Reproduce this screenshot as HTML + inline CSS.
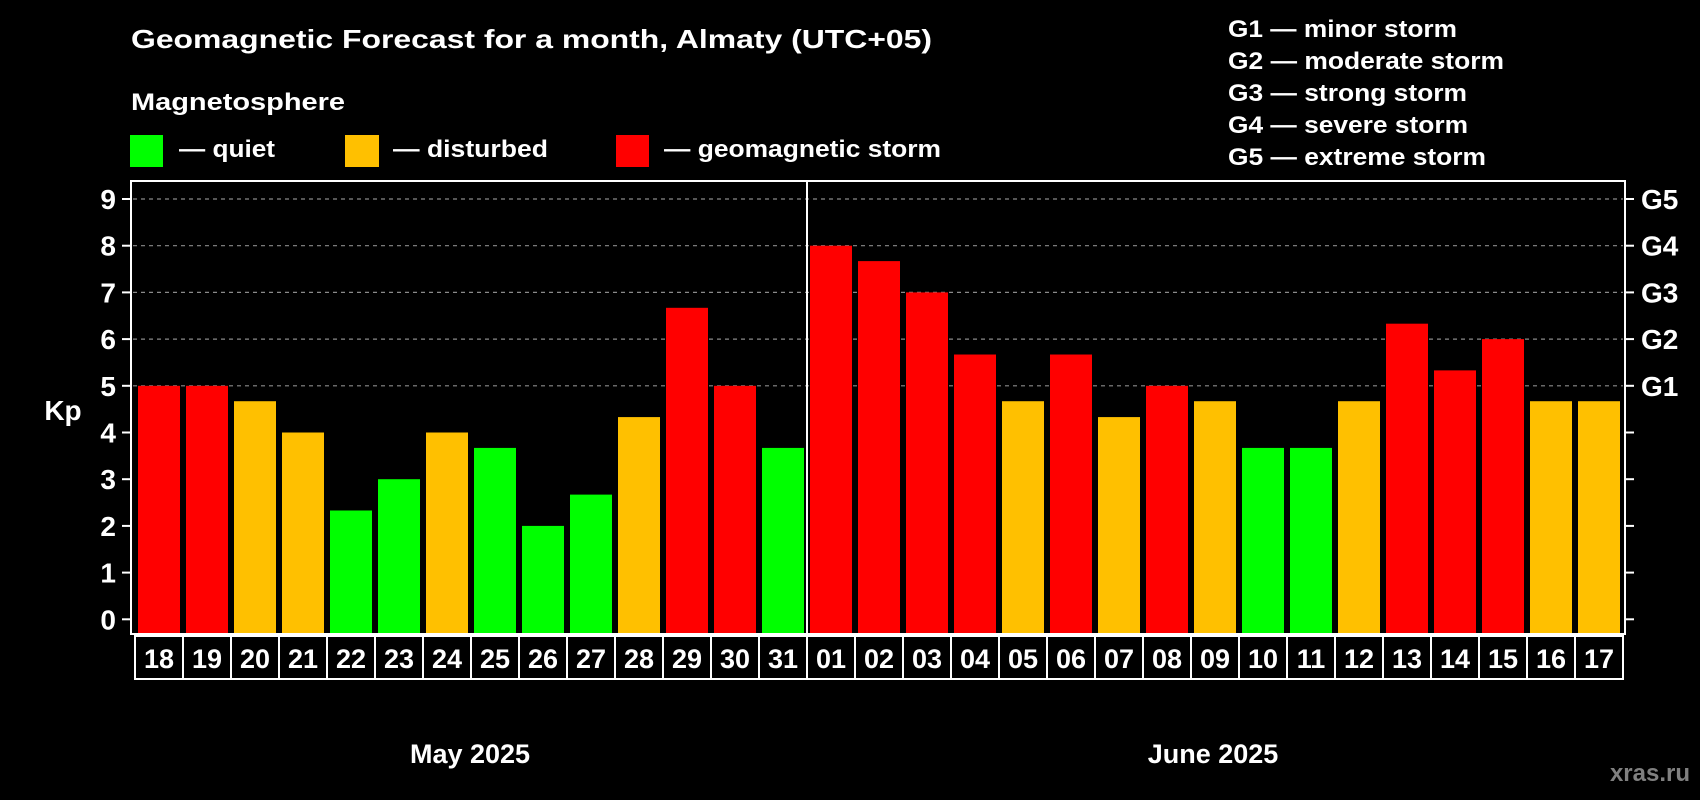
<!DOCTYPE html>
<html><head><meta charset="utf-8"><style>
html,body{margin:0;padding:0;background:#000;}
svg{display:block;font-family:"Liberation Sans",Arial,sans-serif;font-weight:bold;}
</style></head><body>
<svg id="chart" width="1700" height="800" viewBox="0 0 1700 800" xmlns="http://www.w3.org/2000/svg">
<rect width="1700" height="800" fill="#000"/>
<text x="131" y="48" fill="#fff" font-size="26" textLength="801" lengthAdjust="spacingAndGlyphs">Geomagnetic Forecast for a month, Almaty (UTC+05)</text>
<text x="131" y="110" fill="#fff" font-size="24" textLength="214" lengthAdjust="spacingAndGlyphs">Magnetosphere</text>
<g>
<rect x="130" y="135" width="33" height="32" fill="#00ff00"/>
<text x="179" y="157" fill="#fff" font-size="24" textLength="96" lengthAdjust="spacingAndGlyphs">— quiet</text></g>
<g>
<rect x="345" y="135" width="34" height="32" fill="#ffc000"/>
<text x="393" y="157" fill="#fff" font-size="24" textLength="155" lengthAdjust="spacingAndGlyphs">— disturbed</text></g>
<g>
<rect x="616" y="135" width="33" height="32" fill="#ff0000"/>
<text x="664" y="157" fill="#fff" font-size="24" textLength="277" lengthAdjust="spacingAndGlyphs">— geomagnetic storm</text></g>
<g fill="#fff" font-size="24">
<text x="1228" y="37" textLength="229" lengthAdjust="spacingAndGlyphs">G1 — minor storm</text>
<text x="1228" y="69" textLength="276" lengthAdjust="spacingAndGlyphs">G2 — moderate storm</text>
<text x="1228" y="101" textLength="239" lengthAdjust="spacingAndGlyphs">G3 — strong storm</text>
<text x="1228" y="133" textLength="240" lengthAdjust="spacingAndGlyphs">G4 — severe storm</text>
<text x="1228" y="165" textLength="258" lengthAdjust="spacingAndGlyphs">G5 — extreme storm</text>
</g>
<text x="63" y="420" fill="#fff" font-size="28" text-anchor="middle">Kp</text>
<g id="plot"></g>
<text x="470" y="763" fill="#fff" font-size="27" text-anchor="middle">May 2025</text>
<text x="1213" y="763" fill="#fff" font-size="27" text-anchor="middle">June 2025</text>
<text x="1690" y="781" fill="#808080" font-size="24" text-anchor="end">xras.ru</text>
</svg>
<script>
const days = ["18","19","20","21","22","23","24","25","26","27","28","29","30","31","01","02","03","04","05","06","07","08","09","10","11","12","13","14","15","16","17"];
const kpValues = [5,5,4.67,4,2.33,3,4,3.67,2,2.67,4.33,6.67,5,3.67,8,7.67,7,5.67,4.67,5.67,4.33,5,4.67,3.67,3.67,4.67,6.33,5.33,6,4.67,4.67];
const yTicks = [0,1,2,3,4,5,6,7,8,9];
const gLabels = ["G1","G2","G3","G4","G5"];
const gLevels = [5,6,7,8,9];
const monthSplitIndex = 14;

const NS = "http://www.w3.org/2000/svg";
const plot = document.getElementById("plot");
const boxL = 131, boxR = 1625, boxT = 181, boxB = 634;
const y0 = 619.3, unit = 46.7;
const barStart = 138, pitch = 48, barW = 42;
function yScale(v){ return y0 - v*unit; }
function xScale(i){ return barStart + i*pitch; }
function mk(tag, attrs){ const e = document.createElementNS(NS, tag); for (const k in attrs) e.setAttribute(k, attrs[k]); plot.appendChild(e); return e; }
function colorFor(v){ return v >= 5 ? "#ff0000" : (v >= 4 ? "#ffc000" : "#00ff00"); }

gLevels.forEach(function(g){
  const l = mk("line", {x1: boxL+2, x2: boxR-2, y1: yScale(g), y2: yScale(g), stroke: "#8a8a8a", "stroke-width": 1.2, "stroke-dasharray": "4 4"});
  
  
});
kpValues.forEach(function(v, i){
  const top = yScale(v);
  const r = mk("rect", {x: xScale(i), y: top, width: barW, height: boxB - top, fill: colorFor(v)});
  
  
});
const sx = (xScale(monthSplitIndex-1) + barW + xScale(monthSplitIndex)) / 2;
const sep = mk("line", {x1: sx, x2: sx, y1: boxT, y2: boxB, stroke: "#fff", "stroke-width": 2});


const box = mk("rect", {x: boxL, y: boxT, width: boxR-boxL, height: boxB-boxT, fill: "none", stroke: "#fff", "stroke-width": 2});


yTicks.forEach(function(t){
  const y = yScale(t);
  const tl = mk("line", {x1: 122, x2: boxL, y1: y, y2: y, stroke: "#fff", "stroke-width": 2});
  
  
  const tr = mk("line", {x1: boxR, x2: 1634, y1: y, y2: y, stroke: "#fff", "stroke-width": 2});
  
  
  const tx = mk("text", {x: 116, y: y + 10, fill: "#fff", "font-size": 28, "text-anchor": "end"});
  tx.textContent = String(t);
  
  
});
gLabels.forEach(function(g, i){
  const t = mk("text", {x: 1641, y: yScale(gLevels[i]) + 10, fill: "#fff", "font-size": 28});
  t.textContent = g;
  
  
});
const dT = 636, dB = 679, dL = 135;
const db = mk("rect", {x: dL, y: dT, width: days.length*pitch, height: dB-dT, fill: "none", stroke: "#fff", "stroke-width": 2});


days.forEach(function(d, i){
  if (i > 0) {
    const l = mk("line", {x1: dL + i*pitch, x2: dL + i*pitch, y1: dT, y2: dB, stroke: "#fff", "stroke-width": 2});
    
    
  }
  const t = mk("text", {x: dL + i*pitch + pitch/2, y: 668, fill: "#fff", "font-size": 27, "text-anchor": "middle"});
  t.textContent = d;
  
  
});
</script>
</body></html>
